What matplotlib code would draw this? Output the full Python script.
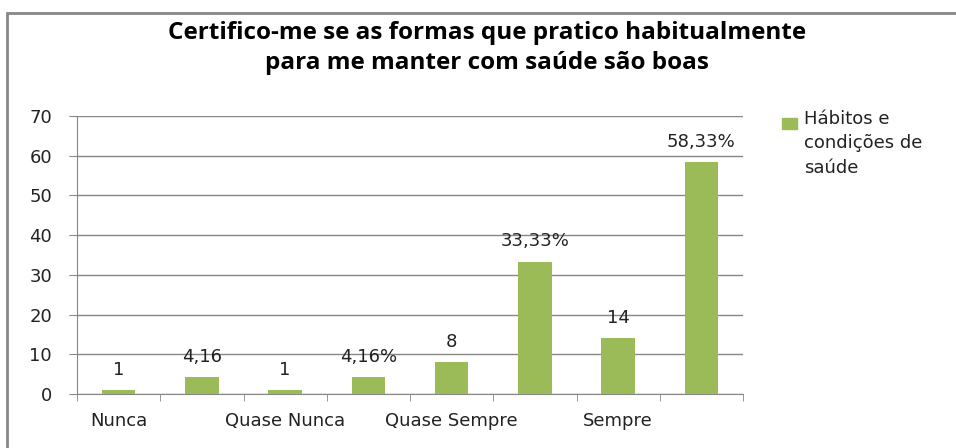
import numpy as np
import matplotlib.pyplot as plt
from matplotlib.patches import Rectangle

# Data
values = [1, 4.16, 1, 4.16, 8, 33.33, 14, 58.33]
bar_labels = ["1", "4,16", "1", "4,16%", "8", "33,33%", "14", "58,33%"]
categories = ["Nunca", "", "Quase Nunca", "", "Quase Sempre", "", "Sempre", ""]
series_name = "Hábitos e\ncondições de\nsaúde"
title = "Certifico-me se as formas que pratico habitualmente\npara me manter com saúde são boas"

green = "#9BBB59"
grid_c = "#878787"
txt_c = "#222222"
fs = 13

fig = plt.figure(figsize=(9.56, 4.48), dpi=100)
ax = fig.add_axes([77 / 956, 54 / 448, 666 / 956, 278 / 448])

x = np.arange(len(values))
bars = ax.bar(x, values, width=0.4, color=green, zorder=3)

for b, lab in zip(bars, bar_labels):
    ax.annotate(lab, (b.get_x() + b.get_width() / 2, b.get_height()),
                xytext=(0, 11), textcoords="offset points",
                ha="center", va="baseline", fontsize=fs, color=txt_c)

ax.set_xlim(-0.5, len(values) - 0.5)
ax.set_ylim(0, 70)
ax.set_yticks(range(0, 71, 10))
ax.yaxis.grid(True, color=grid_c, linewidth=1, zorder=0)

ax.set_xticks(x)
ax.set_xticklabels(categories, fontsize=fs, color=txt_c)
ax.tick_params(axis="x", length=0, pad=13)
# category boundary tick marks
ax.set_xticks(np.arange(-0.5, len(values), 1), minor=True)
ax.tick_params(axis="x", which="minor", length=5, color=grid_c, direction="out")
ax.tick_params(axis="y", length=6, color=grid_c, labelsize=fs, labelcolor=txt_c, pad=12)

for side in ["top", "right"]:
    ax.spines[side].set_visible(False)
for side in ["left", "bottom"]:
    ax.spines[side].set_color(grid_c)

fig.text(487 / 956, 1 - 48 / 448, title, ha="center", va="center",
         fontsize=17.5, fontweight="bold", linespacing=1.3, family="Open Sans")

# legend
fig.patches.append(Rectangle((782 / 956, 1 - 129 / 448), 15 / 956, 11 / 448,
                             transform=fig.transFigure, color=green))
fig.text(804 / 956, 1 - 110 / 448, series_name, ha="left", va="top",
         fontsize=fs, linespacing=1.45, color=txt_c)

# outer chart border (cropped at right/bottom)
fig.patches.append(Rectangle((7 / 956, -0.1), 1.1, 1 - 13 / 448 + 0.1,
                             transform=fig.transFigure, fill=False,
                             edgecolor="#888888", linewidth=2))

fig.savefig("out.png", dpi=100)
